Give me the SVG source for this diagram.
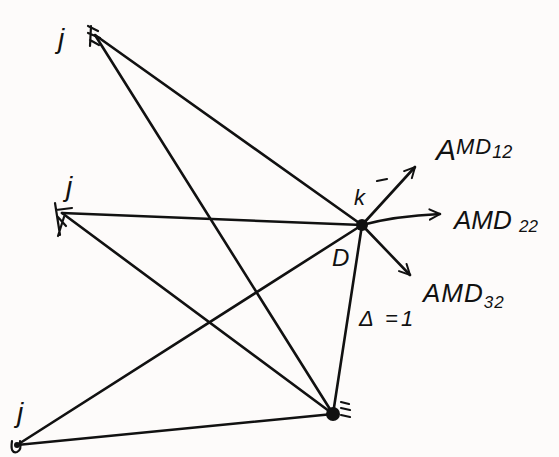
<svg xmlns="http://www.w3.org/2000/svg" width="559" height="457" viewBox="0 0 559 457">
<style>
.ln{stroke:#111;stroke-width:2.6;fill:none;stroke-linecap:round;stroke-linejoin:round}
.sc{stroke:#111;stroke-width:2.2;fill:none;stroke-linecap:round}
.t{font-family:"Liberation Sans",Arial,sans-serif;font-style:italic;fill:#111}
</style>
<defs>
<marker id="ah" viewBox="0 0 10 10" refX="9" refY="5" markerWidth="5" markerHeight="5" orient="auto" markerUnits="strokeWidth">
<path d="M1,1 L9,5 L1,9" fill="none" stroke="#111" stroke-width="1.5" stroke-linecap="round"/>
</marker>
</defs>
<rect width="559" height="457" fill="#fdfbfa"/>
<g id="connectors">
<line class="ln" x1="95" y1="35" x2="362" y2="225"/>
<line class="ln" x1="95" y1="35" x2="333" y2="414"/>
<line class="ln" x1="62" y1="213" x2="362" y2="225"/>
<line class="ln" x1="62" y1="213" x2="333" y2="414"/>
<line class="ln" x1="17" y1="445" x2="362" y2="225"/>
<line class="ln" x1="17" y1="445" x2="333" y2="414"/>
<line class="ln" x1="362" y1="225" x2="333" y2="414"/>
<line class="ln" x1="362" y1="225" x2="415" y2="167" marker-end="url(#ah)"/>
<path class="ln" d="M362,225 Q395,216 440,214" marker-end="url(#ah)"/>
<line class="ln" x1="362" y1="225" x2="410" y2="275" marker-end="url(#ah)"/>
</g>
<g id="node-j-top">
<path class="sc" d="M88,26 L98,31 M88,33 L100,38 M90,40 L99,45 M91,26 L90,46"/>
<text class="t" x="58" y="48" font-size="28">j</text>
</g>
<g id="node-j-mid">
<path class="sc" d="M55,203 L60,235 M56,210 L72,208 M57,216 L66,226 M64,217 L58,236"/>
<text class="t" x="66" y="196" font-size="28">j</text>
</g>
<g id="node-j-bottom">
<path class="sc" d="M12,441 Q10,454 17,452 Q22,450 20,441"/>
<circle cx="17" cy="445" r="3" fill="#111"/>
<text class="t" x="17" y="422" font-size="28">j</text>
</g>
<g id="node-k">
<circle cx="362" cy="225" r="6" fill="#111"/>
<text class="t" x="354" y="205" font-size="22">k</text>
<line class="sc" x1="377" y1="181" x2="387" y2="179"/>
<text class="t" x="332" y="266" font-size="24">D</text>
</g>
<g id="node-bottom">
<circle cx="333" cy="414" r="7" fill="#111"/>
<path class="sc" d="M341,402 L349,404 M341,408 L350,410 M341,415 L350,417"/>
</g>
<g id="labels">
<text class="t" x="436" y="160" font-size="30">A<tspan font-size="22" dy="-6" letter-spacing="1">MD</tspan><tspan font-size="18" dy="4">12</tspan></text>
<text class="t" x="454" y="229" font-size="26">AMD <tspan font-size="17" dy="3">22</tspan></text>
<text class="t" x="423" y="302" font-size="26" letter-spacing="1">AMD<tspan font-size="17" dy="6">32</tspan></text>
<text class="t" x="359" y="326" font-size="22" letter-spacing="3">Δ =1</text>
</g>
</svg>
